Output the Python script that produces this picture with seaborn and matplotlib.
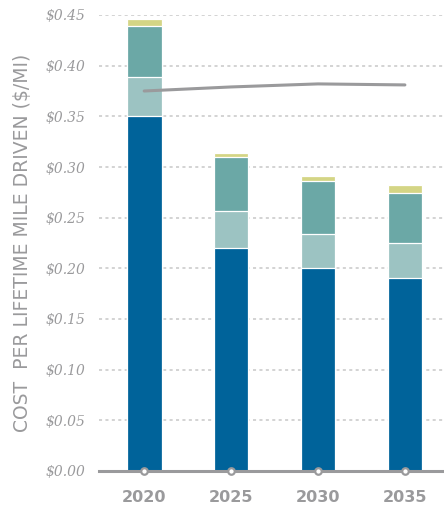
import matplotlib
matplotlib.use("Agg")
import matplotlib.pyplot as plt
import seaborn as sns
import pandas as pd
import numpy as np

# Cost components per lifetime mile driven ($/mi), bottom to top
years = ["2020", "2025", "2030", "2035"]
base_cost = [0.350, 0.220, 0.200, 0.190]
component_2 = [0.039, 0.037, 0.034, 0.035]
component_3 = [0.050, 0.053, 0.052, 0.049]
component_4 = [0.007, 0.004, 0.005, 0.008]
reference_line = [0.375, 0.379, 0.382, 0.381]

y_ticks = [0.00, 0.05, 0.10, 0.15, 0.20, 0.25, 0.30, 0.35, 0.40, 0.45]

layer_colors = ["#00639a", "#9cc3c2", "#6ba8a6", "#d4d585"]
grey = "#9a9a9c"

sns.set_theme(style="white")
plt.rcParams["font.family"] = ["DejaVu Sans"]

fig = plt.figure(figsize=(4.44, 5.08), dpi=100)
ax = fig.add_axes([99 / 444, 37 / 508, 345 / 444, 456 / 508])

layers = [base_cost, component_2, component_3, component_4]
cumulative = np.cumsum(np.array(layers), axis=0)

# Draw tallest cumulative total first, then overlay lower totals
for i in range(len(layers) - 1, -1, -1):
    df = pd.DataFrame({"year": years, "value": cumulative[i]})
    sns.barplot(data=df, x="year", y="value", color=layer_colors[i],
                saturation=1, width=0.40, edgecolor="white", linewidth=0.9,
                ax=ax, zorder=2)

line_df = pd.DataFrame({"year": years, "value": reference_line})
sns.pointplot(data=line_df, x="year", y="value", color=grey, markers="",
              linewidth=2.2, ax=ax, zorder=4)

# Dotted horizontal grid
for t in y_ticks[1:]:
    ax.axhline(t, color="#c8c8c8", linestyle=(0, (2, 2.2)), linewidth=1.1,
               zorder=1)

ax.set_ylim(0, 0.45)
ax.set_xlim(-0.52, 3.45)
ax.set_yticks(y_ticks)
ax.set_yticklabels([f"${t:.2f}" for t in y_ticks], family="DejaVu Serif",
                   style="italic", fontsize=10, color=grey)
ax.set_xticks(range(len(years)))
ax.set_xticklabels(years, fontsize=11.5, fontweight="bold", color=grey)
ax.tick_params(axis="y", length=0, pad=10)
ax.tick_params(axis="x", length=0, pad=14)

for side in ["top", "right", "left"]:
    ax.spines[side].set_visible(False)
ax.spines["bottom"].set_color(grey)
ax.spines["bottom"].set_linewidth(2.2)
ax.spines["bottom"].set_zorder(5)

# Category markers on the baseline
ax.scatter(range(len(years)), [0] * len(years), s=22, facecolor="white",
           edgecolor=grey, linewidth=1.6, zorder=6, clip_on=False)

ax.set_xlabel("")
ax.set_ylabel("COST  PER LIFETIME MILE DRIVEN ($/MI)", fontsize=13.5,
              color=grey)
ax.yaxis.set_label_coords(-0.195, 0.5)

fig.savefig("out.png", dpi=100)
